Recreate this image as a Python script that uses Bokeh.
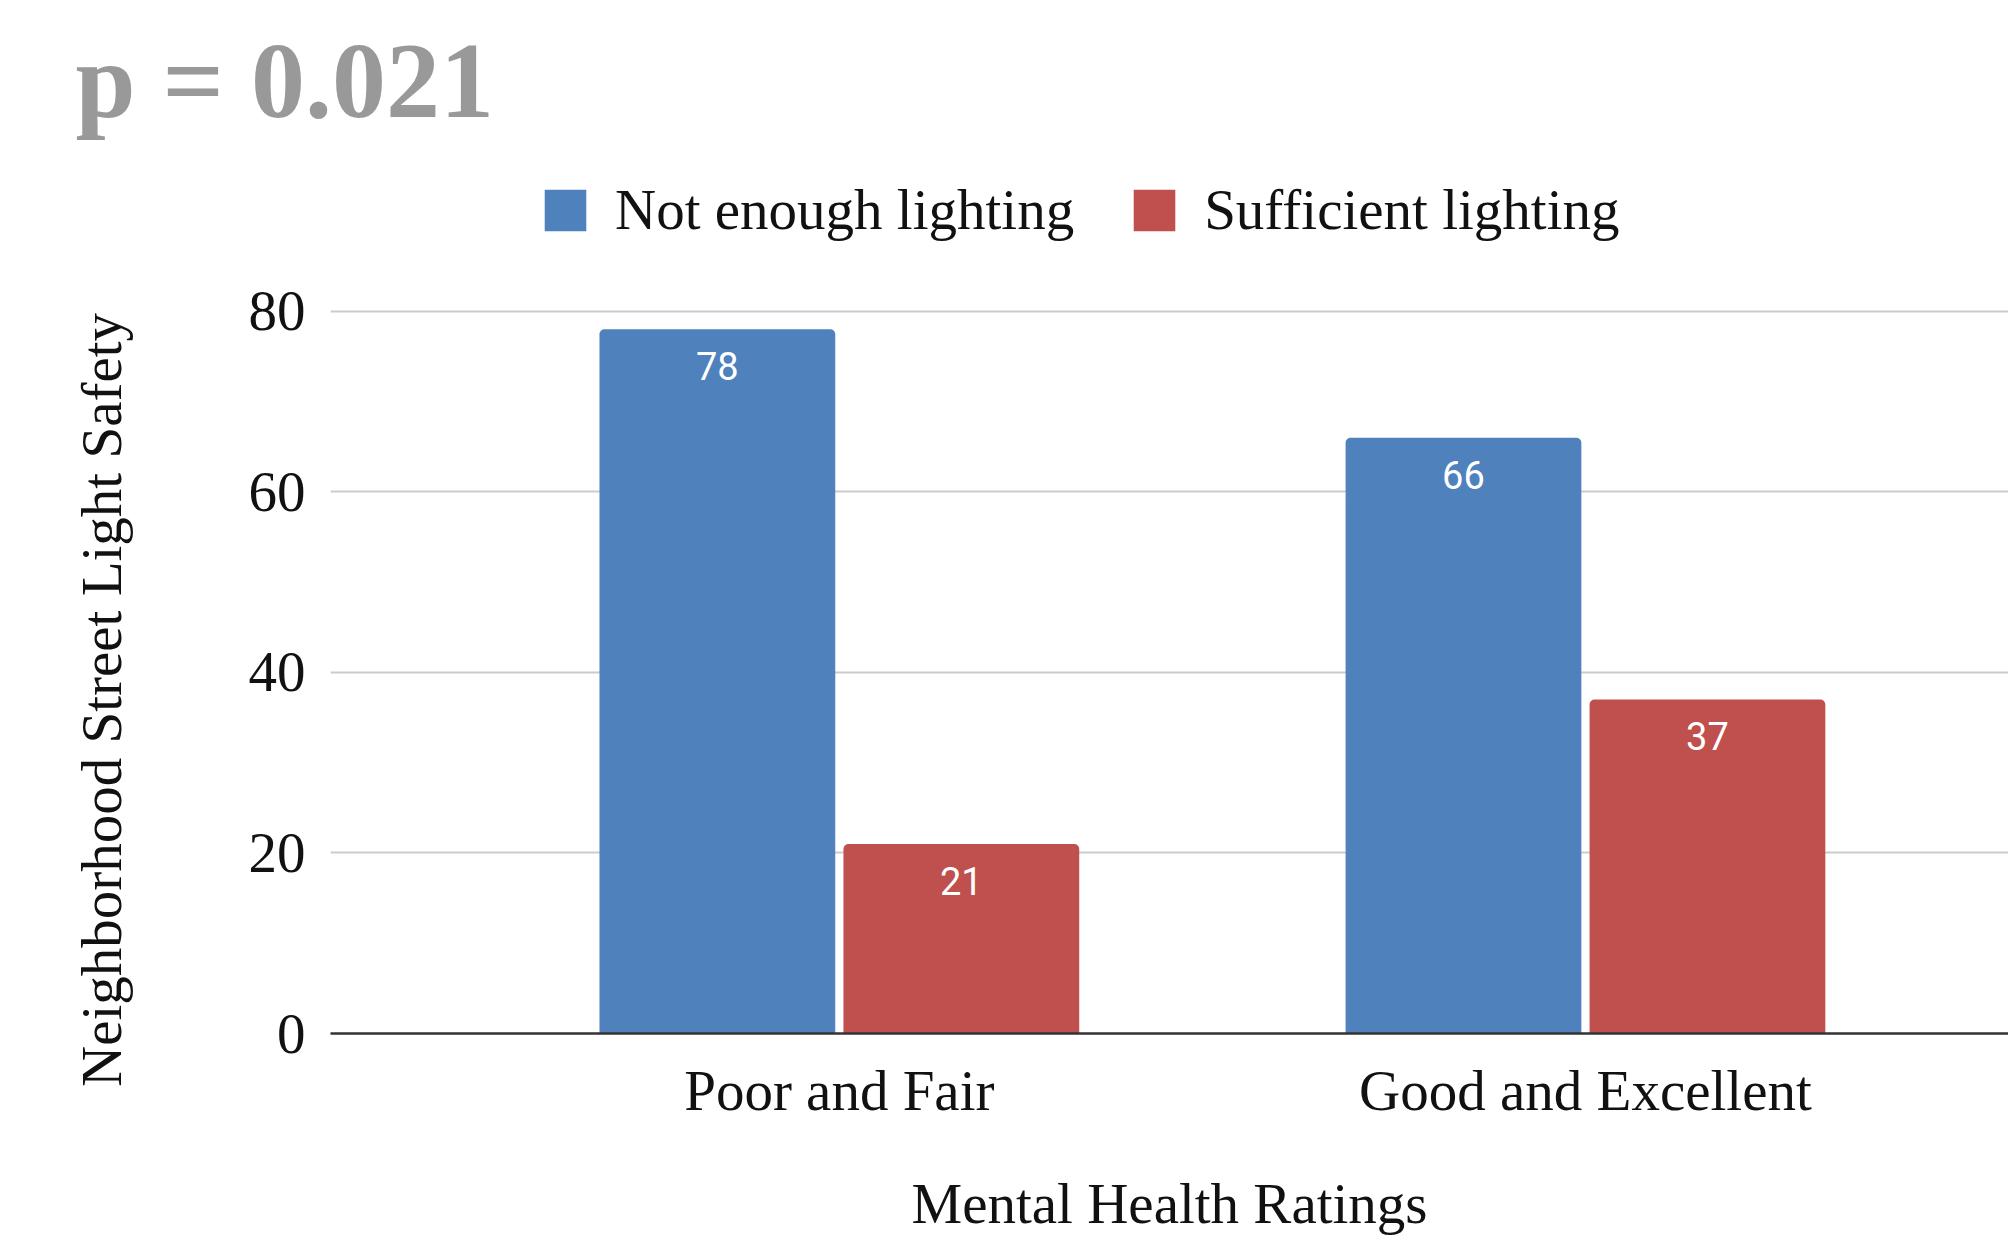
from bokeh.plotting import figure
from bokeh.layouts import column
from bokeh.models import Range1d, FixedTicker, Legend, LegendItem, Title
from bokeh.core.properties import value
from bokeh.embed import file_html
from bokeh.resources import INLINE

categories = ["Poor and Fair", "Good and Excellent"]
series_names = ["Not enough lighting", "Sufficient lighting"]
not_enough = [78, 66]
sufficient = [21, 37]
y_ticks = [0, 20, 40, 60, 80]
colors = ["#4F81BD", "#C0504D"]
p_value_text = "p = 0.021"
y_title = "Neighborhood Street Light Safety"
x_title = "Mental Health Ratings"

SERIF = "Liberation Serif"
HEAD_H = 245
W = 2008

idx = list(range(len(categories)))
off = 0.1635
bw = 0.316
xs1 = [i - off for i in idx]
xs2 = [i + off for i in idx]

# ---------- header figure: title + legend ----------
head = figure(width=W, height=HEAD_H, output_backend="svg", toolbar_location=None,
              x_range=Range1d(-0.682, 1.567), y_range=Range1d(1000, 1001),
              x_axis_type=None, y_axis_type=None,
              min_border_left=0, min_border_right=0, min_border_top=139, min_border_bottom=0)
head.outline_line_color = None
head.xgrid.visible = False
head.ygrid.visible = False
head.background_fill_color = "white"
head.border_fill_color = "white"
head.title = Title(text=p_value_text, align="left", offset=-255, standoff=0,
                   text_font=SERIF, text_font_size="108px", text_font_style="bold",
                   text_color="#999999")

# same series (out of this strip's view) feed the legend swatches
h1 = head.vbar(x=xs1, top=not_enough, width=bw, color=colors[0], line_color=None)
h2 = head.vbar(x=xs2, top=sufficient, width=bw, color=colors[1], line_color=None)
legend = Legend(items=[LegendItem(label=series_names[0], renderers=[h1]),
                       LegendItem(label=series_names[1], renderers=[h2])],
                orientation="horizontal", location=(209, 3),
                glyph_width=52, glyph_height=52, label_standoff=24, spacing=54,
                padding=0, margin=0, border_line_color=None, background_fill_alpha=0,
                label_text_font=SERIF, label_text_font_size="57px",
                label_text_color="#111111")
head.add_layout(legend, "center")

# ---------- main chart ----------
p = figure(width=W, height=1239 - HEAD_H, output_backend="svg", toolbar_location=None,
           x_range=Range1d(-0.682, 1.567), y_range=Range1d(0, 80.2),
           min_border_left=330, min_border_right=0, min_border_top=309 - HEAD_H,
           min_border_bottom=206)
p.outline_line_color = None
p.background_fill_color = "white"
p.border_fill_color = "white"

p.vbar(x=xs1, top=not_enough, width=bw, color=colors[0], line_color=None,
       border_radius=(5, 5, 0, 0))
p.vbar(x=xs2, top=sufficient, width=bw, color=colors[1], line_color=None,
       border_radius=(5, 5, 0, 0))

for xs, vals in ((xs1, not_enough), (xs2, sufficient)):
    p.text(x=xs, y=vals, text=[str(v) for v in vals], y_offset=37,
           text_align="center", text_baseline="middle", text_color="white",
           text_font=value("Roboto"), text_font_size="38px", text_font_style="normal")

p.xaxis.ticker = FixedTicker(ticks=idx)
p.xaxis.major_label_overrides = {i: c for i, c in zip(idx, categories)}
p.yaxis.ticker = FixedTicker(ticks=y_ticks)
for ax in (p.xaxis[0], p.yaxis[0]):
    ax.major_tick_line_color = None
    ax.minor_tick_line_color = None
    ax.major_label_text_font = SERIF
    ax.major_label_text_font_size = "57px"
    ax.major_label_text_color = "#111111"
    ax.major_label_standoff = 19
    ax.axis_label_text_font = SERIF
    ax.axis_label_text_font_size = "57px"
    ax.axis_label_text_font_style = "normal"
    ax.axis_label_text_color = "#111111"
p.yaxis.axis_line_color = None
# trailing no-break spaces nudge the rotated title slightly below the frame centre
p.yaxis.axis_label = y_title + "\u00a0" * 4
p.yaxis.axis_label_standoff = 113
p.xaxis.axis_line_color = "#333333"
p.xaxis.axis_line_width = 2.5
p.xaxis.axis_label = x_title
p.xaxis.axis_label_standoff = 47

p.xgrid.grid_line_color = None
p.ygrid.grid_line_color = "#CCCCCC"
p.ygrid.grid_line_width = 2

layout = column(head, p, spacing=0)
open("out.html", "w").write(file_html(layout, INLINE))
